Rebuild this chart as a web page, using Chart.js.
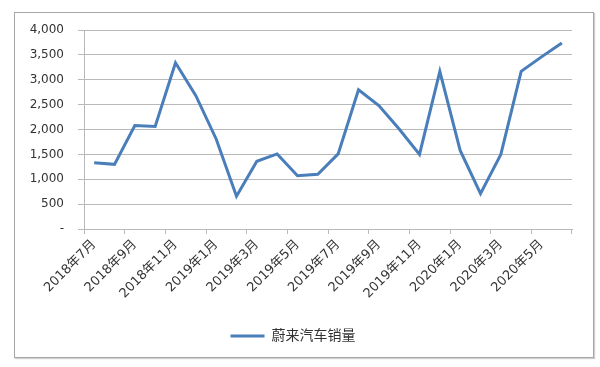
<!DOCTYPE html>
<html>
<head>
<meta charset="utf-8">
<script src="https://cdn.jsdelivr.net/npm/chart.js@4.4.1/dist/chart.umd.min.js"></script>
<style>
  html, body { margin: 0; padding: 0; background: #fff; }
  #wrap { position: relative; width: 600px; height: 367px; }
  #marco { position: absolute; left: 14px; top: 12px; width: 578px; height: 344px; border: 1px solid #a6a6a6; box-shadow: 1px 1px 1px #d0d0d0; }
  canvas { position: absolute; left: 0; top: 0; }
</style>
</head>
<body>
<div id="wrap">
  <div id="marco"></div>
  <canvas id="ventasChart" width="600" height="367"></canvas>
</div>
<script>
// ===== Datos =====
const meses = [
  '2018年7月','2018年8月','2018年9月','2018年10月','2018年11月','2018年12月',
  '2019年1月','2019年2月','2019年3月','2019年4月','2019年5月','2019年6月',
  '2019年7月','2019年8月','2019年9月','2019年10月','2019年11月','2019年12月',
  '2020年1月','2020年2月','2020年3月','2020年4月','2020年5月','2020年6月'
];
const ventasNio = [
  1330, 1300, 2080, 2060, 3340, 2680,
  1810, 660, 1360, 1510, 1070, 1100,
  1510, 2800, 2480, 2010, 1500, 3170,
  1580, 710, 1500, 3170, 3460, 3740
];
const serieNombre = '蔚来汽车销量';

const fuente = "'DejaVu Sans', 'Noto Sans CJK SC', sans-serif";
const gris = '#b9b9b9';
const texto = '#333333';

function fmtNum(v){
  if (v === 0) return '-';
  return Number(v).toLocaleString('en-US');
}

const ctx = document.getElementById('ventasChart').getContext('2d');
const chart = new Chart(ctx, {
  type: 'line',
  data: {
    labels: meses,
    datasets: [{
      label: serieNombre,
      data: ventasNio,
      borderColor: '#4a7ebb',
      backgroundColor: '#4a7ebb',
      borderWidth: 3,
      pointRadius: 0,
      tension: 0
    }]
  },
  options: {
    responsive: false,
    animation: false,
    layout: { padding: { left: 14, right: 28, top: 30, bottom: 14 } },
    plugins: {
      tooltip: { enabled: false },
      legend: {
        position: 'bottom',
        labels: {
          usePointStyle: true,
          pointStyle: 'line',
          pointStyleWidth: 34,
          color: texto,
          font: { family: fuente, size: 14 },
          padding: 10
        }
      }
    },
    scales: {
      x: {
        offset: true,
        afterFit: (s) => { s.height = 90; },
        grid: {
          offset: true,
          drawOnChartArea: false,
          tickLength: 5,
          color: (c) => (c.index === undefined || c.index % 2 === 0) ? gris : 'rgba(0,0,0,0)'
        },
        border: { color: gris, width: 1 },
        ticks: {
          autoSkip: false,
          maxRotation: 45,
          minRotation: 45,
          color: texto,
          font: { family: fuente, size: 13 },
          padding: 3,
          callback: function(v, i){ return i % 2 === 0 ? meses[i] : ''; }
        }
      },
      y: {
        min: 0,
        max: 4000,
        afterFit: (s) => { s.width = 70; },
        grid: { color: gris, tickLength: 6 },
        border: { color: gris, width: 1 },
        ticks: {
          stepSize: 500,
          color: texto,
          font: { family: fuente, size: 12 },
          padding: 14,
          callback: (v) => fmtNum(v)
        }
      }
    }
  }
});
</script>
</body>
</html>
